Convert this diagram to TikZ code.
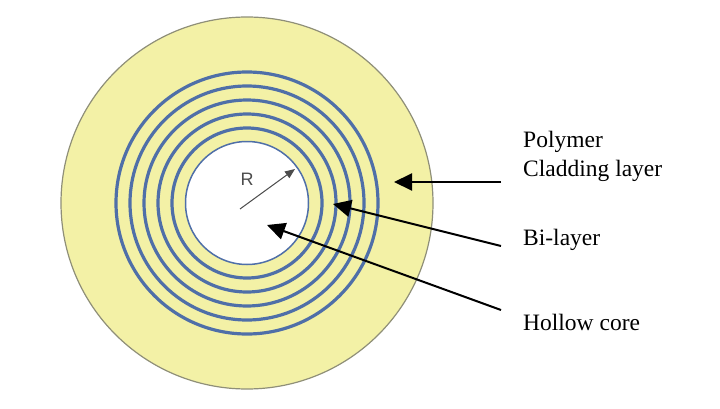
\documentclass[tikz,border=0pt]{standalone}
\usepackage{fontspec}
\setmainfont{Liberation Serif}
\newfontfamily\arialfont{Liberation Sans}
\usetikzlibrary{arrows.meta}
\definecolor{claddingyellow}{HTML}{F3F1A6}
\definecolor{ringblue}{HTML}{4F6FA8}
\definecolor{edgegray}{HTML}{8F8F78}
\tikzset{
	ring/.style={draw=ringblue, line width=3.2pt},
	pointer/.style={line width=2pt, -{Triangle[length=18pt, width=17pt]}},
	caption/.style={anchor=base west, font=\fontsize{23.5}{28}\selectfont, inner sep=0pt}
}

\begin{document}
\begin{tikzpicture}[x=1pt, y=1pt]
	%%%%% START %%%%%
	\useasboundingbox (0, 0) rectangle (720, 408);
	
	\draw[draw=edgegray, fill=claddingyellow, line width=1.2pt] (247, 205) circle (186);
	
	\draw[ring] (247, 205) circle (131);
	\draw[ring] (247, 205) circle (117);
	\draw[ring] (247, 205) circle (103);
	\draw[ring] (247, 205) circle (89);
	\draw[ring] (247, 205) circle (75);
	\draw[draw=ringblue, fill=white, line width=1.5pt] (247, 205) circle (61.5);
	
	\node[caption] (polymer) at (523, 261) {Polymer};
	\node[caption] (cladding) at (523, 232) {Cladding layer};
	\node[caption] (bilayer) at (523, 163) {Bi-layer};
	\node[caption] (hollow) at (523, 78) {Hollow core};
	\node[font=\arialfont\fontsize{18}{20}\selectfont, text=black!70, inner sep=0pt] (radius) at (247, 229) {R};
	
	\coordinate (claddingstart) at (501, 226);
	\coordinate (claddingtip) at (394, 226);
	\coordinate (bilayerstart) at (501, 162);
	\coordinate (bilayertip) at (333, 204);
	\coordinate (hollowstart) at (501, 98);
	\coordinate (hollowtip) at (267, 183);
	\coordinate (radiusstart) at (240, 199);
	\coordinate (radiustip) at (295, 239);
	
	\draw[pointer] (claddingstart) -- (claddingtip);
	\draw[pointer] (bilayerstart) -- (bilayertip);
	\draw[pointer] (hollowstart) -- (hollowtip);
	\draw[line width=1pt, draw=black!70, -{Triangle[length=10pt, width=8pt]}] (radiusstart) -- (radiustip);
	%%%%% END %%%%%
\end{tikzpicture}
\end{document}
